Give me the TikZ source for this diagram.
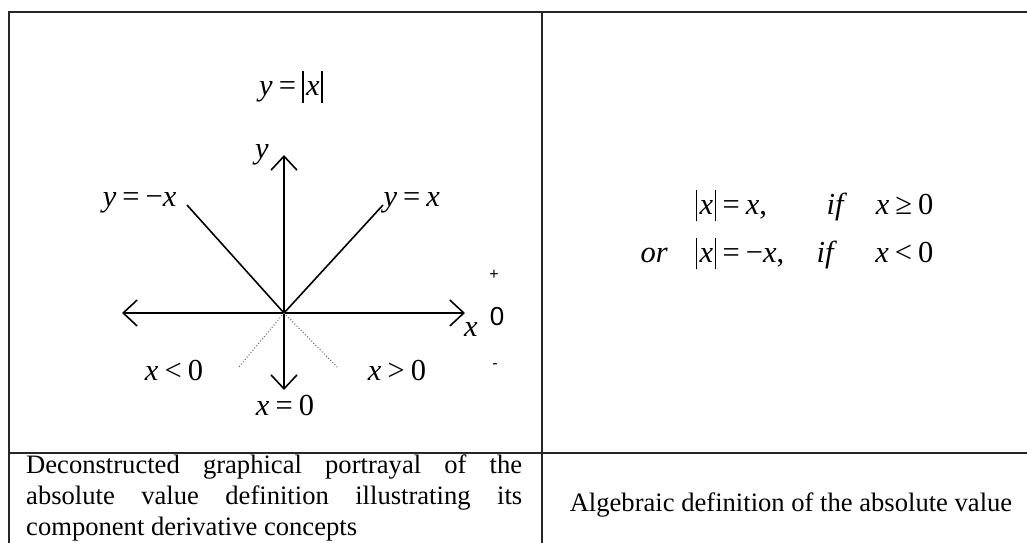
\documentclass[tikz,border=0pt]{standalone}
\usepackage{fontspec}
\setmainfont{Liberation Serif}
\newfontfamily\signfont{Liberation Sans}
\usetikzlibrary{arrows.meta, positioning}
\newcommand{\vi}[1]{\textit{#1}}
\newcommand{\rel}[1]{\hspace{0.2em}#1\hspace{0.2em}}
\newcommand{\vbar}{\rule[-0.24em]{0.05em}{1.02em}}
\newcommand{\absx}{\vbar\hspace{0.08em}\vi{x}\hspace{0.06em}\vbar}

\begin{document}
\begin{tikzpicture}[x=1pt, y=-1pt, font=\fontsize{26.6}{31}\selectfont,
					rule/.style={line width=1.3pt, black!85},
					axis/.style={line width=1.6pt, -{Straight Barb[length=14pt, width=26pt, line width=1.6pt]}},
					branch/.style={line width=1.6pt},
					guide/.style={line width=1pt, dotted, black!60},
					eq/.style={font=\fontsize{30.5}{34}\selectfont},
					sign/.style={font=\signfont\fontsize{16}{16}\selectfont, inner sep=0pt}]
					\useasboundingbox (0,0) rectangle (1027,542);
					% table
					\draw[rule] (1030,12) -- (9,12) -- (9,545);
					\draw[rule] (542,12) -- (542,545);
					\draw[rule] (9,453) -- (1030,453);
					% graph
					\coordinate (o) at (284,313);
					\coordinate (ytop) at (284,155); \coordinate (ybot) at (284,390);
					\coordinate (xleft) at (122,313); \coordinate (xright) at (465,313);
					\coordinate (negend) at (187,205); \coordinate (posend) at (383,205);
					\coordinate (negdot) at (238,368); \coordinate (posdot) at (338,368);
					\draw[axis] (o) -- (ytop); \draw[axis] (o) -- (ybot);
					\draw[axis] (o) -- (xleft); \draw[axis] (o) -- (xright);
					\draw[branch] (o) -- (negend); \draw[branch] (o) -- (posend);
					\draw[guide] (o) -- (negdot); \draw[guide] (o) -- (posdot);
					\node[eq] (title) at (291,87) {\vi{y}\rel{=}\absx};
					\node[eq] (ylbl) at (262,155) {\vi{y}};
					\node[eq] (xlbl) at (471,329) {\vi{x}};
					\node[eq, anchor=east] (neglbl) at (180,203) {\vi{y}\rel{=}−\vi{x}};
					\node[eq, anchor=west] (poslbl) at (380,203) {\vi{y}\rel{=}\vi{x}};
					\node[eq] (less) at (174,370) {\vi{x}\rel{<}0};
					\node[eq] (zero) at (285,405) {\vi{x}\rel{=}0};
					\node[eq] (more) at (397,370) {\vi{x}\rel{>}0};
					\node[sign] (plus) at (494,275) {+};
					\node[sign, font=\signfont\fontsize{26}{26}\selectfont] (nought) at (497,317) {0};
					\node[sign] (minus) at (495,366) {-};
					% algebraic definition
					\node[eq, anchor=base west] (rowa) at (692,214) {\absx\rel{=}\vi{x},};
					\node[eq, anchor=base west] (ifa) at (823,214) {\vi{if}};
					\node[eq, anchor=base east] (conda) at (937,214) {\vi{x}\rel{≥}0};
					\node[eq, anchor=base west] (rowb) at (692,262) {\absx\rel{=}−\vi{x},};
					\node[eq, anchor=base west] (ifb) at (813,262) {\vi{if}};
					\node[eq, anchor=base east] (condb) at (937,262) {\vi{x}\rel{<}0};
					\node[eq, anchor=base west] (orlbl) at (637,262) {\vi{or}};
					% captions
					\node[text width=496pt, align=justify, inner sep=0pt, anchor=west] (capa) at (26,498)
						{\hyphenpenalty=10000 Deconstructed graphical portrayal of the\linebreak absolute value definition illustrating its\linebreak component derivative concepts};
					\node (capb) at (791,505) {Algebraic definition of the absolute value};
				\end{tikzpicture}
\end{document}
